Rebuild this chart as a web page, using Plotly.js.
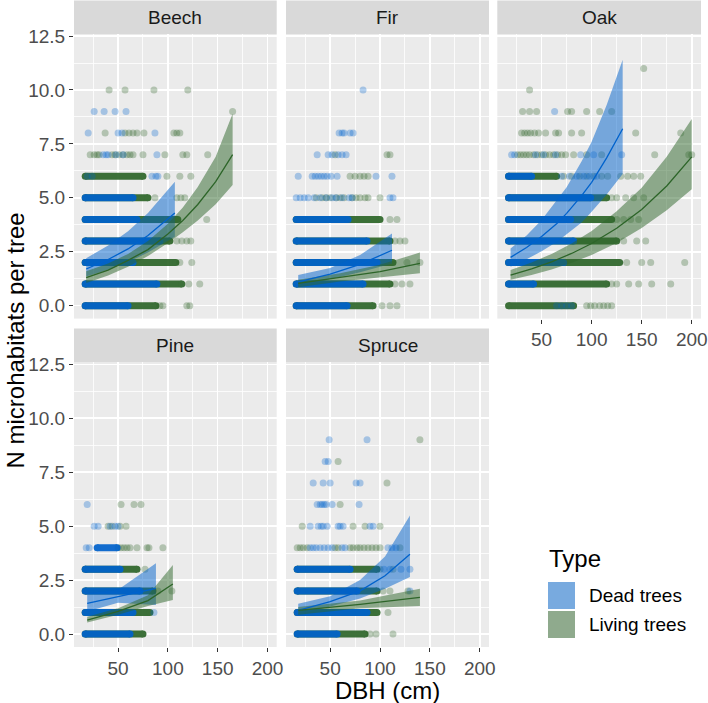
<!DOCTYPE html>
<html>
<head>
<meta charset="utf-8">
<script src="https://cdn.plot.ly/plotly-3.0.1.min.js"></script>
<style>
  html, body { margin: 0; padding: 0; background: #fff; }
  #chart { width: 708px; height: 703px; }
</style>
</head>
<body>
<div id="chart"></div>
<script>
// Facets, in panel order
const species = ["Beech", "Fir", "Oak", "Pine", "Spruce"];

// Dense runs of points: [N microhabitats, DBH from, DBH to]
// Sparse points: [N microhabitats, DBH, DBH, ...]
const beechDeadRuns = [[0, 17, 60], [1, 17, 89], [2, 17, 65], [3, 17, 92], [4, 17, 69], [5, 17, 65]];
const beechDeadPts = [[9, 26, 36, 47, 58], [8, 20, 50, 54, 87], [7, 35, 38, 40, 48, 55, 89], [6, 19, 24, 84, 88, 90]];
const beechLiveRuns = [[0, 17, 88], [1, 17, 114], [2, 17, 108], [3, 17, 102], [4, 17, 110], [5, 17, 80], [6, 17, 75]];
const beechLivePts = [[10, 41, 57, 86, 120], [9, 165], [8, 37, 57, 61, 65, 69, 76, 106, 109, 112],
  [7, 22, 26, 29, 31, 44, 47, 51, 55, 59, 62, 65, 75, 97, 115, 119, 140], [6, 99, 112, 123],
  [5, 87, 109, 113, 117], [4, 139], [3, 109, 114, 119, 123], [2, 112, 124], [1, 121, 132], [0, 92, 95, 119, 122]];

const firDeadRuns = [[0, 16, 67], [1, 16, 83], [2, 16, 97], [3, 16, 87], [4, 16, 68]];
const firDeadPts = [[10, 83], [8, 59, 62, 64, 70, 73], [7, 37, 48, 52, 58, 62, 66], [6, 18, 32, 35, 38, 41, 44, 47, 51, 57, 96, 112],
  [5, 16, 20, 24, 28, 34, 40, 46, 52, 56, 62, 69, 72, 110, 113]];
const firLiveRuns = [[0, 16, 93], [1, 16, 110], [2, 16, 113], [3, 16, 110], [4, 16, 100]];
const firLivePts = [[7, 55, 107, 110], [6, 70, 75, 80, 84, 88], [5, 36, 42, 46, 50, 56, 60, 64, 72, 76, 80, 85, 88, 100],
  [4, 110, 117], [3, 115, 120, 125], [2, 127, 140], [1, 115, 122, 130], [0, 102, 110, 117]];

const oakDeadRuns = [[1, 17, 42], [2, 17, 72], [3, 17, 82], [4, 17, 79], [5, 17, 99], [6, 17, 40]];
const oakDeadPts = [[9, 63], [7, 20, 23, 44, 52, 64, 89, 102, 130], [6, 70, 78, 85, 92, 98, 105], [0, 65, 70, 75, 80]];
const oakLiveRuns = [[0, 17, 82], [1, 17, 115], [2, 17, 128], [3, 17, 125], [4, 17, 120], [5, 17, 115], [6, 17, 65]];
const oakLivePts = [[11, 152], [10, 38], [9, 31, 38, 45, 76, 80, 95, 108, 120],
  [8, 30, 33, 36, 39, 43, 47, 54, 64, 67, 80, 90, 144, 189],
  [7, 26, 29, 32, 35, 38, 42, 46, 50, 54, 58, 62, 66, 70, 74, 82, 95, 110, 163, 197, 200],
  [6, 72, 80, 88, 95, 102, 110, 116, 129, 136, 142, 149], [5, 120, 125, 134, 142, 152],
  [4, 125, 132, 139, 147], [3, 132, 145, 154], [2, 135, 150, 159, 193], [1, 120, 125, 137, 147, 160, 179],
  [0, 95, 99, 103, 108, 112, 116, 120]];

const pineDeadRuns = [[0, 17, 62], [1, 17, 65], [2, 17, 72], [3, 17, 52], [4, 29, 49]];
const pineDeadPts = [[6, 19], [5, 26, 30, 42, 47, 50], [4, 18, 21], [1, 86]];
const pineLiveRuns = [[0, 17, 75], [1, 17, 82], [2, 17, 85], [3, 17, 69]];
const pineLivePts = [[6, 53, 66, 73], [5, 40, 44, 52, 58], [4, 50, 53, 56, 59, 62, 69, 79, 81, 95], [3, 77], [2, 90, 104]];

const spruceDeadRuns = [[0, 17, 57], [1, 17, 87], [2, 17, 77], [3, 17, 70]];
const spruceDeadPts = [[9, 49, 87], [8, 45, 48], [7, 33, 43, 50, 76, 80], [6, 37, 40, 42, 44, 46, 52, 79],
  [5, 30, 38, 41, 43, 47, 58, 60, 63, 90, 93], [4, 30, 33, 36, 40, 44, 48, 52, 62, 65, 108, 112, 116],
  [3, 104, 110, 121, 130], [2, 130]];
const spruceLiveRuns = [[0, 17, 85], [1, 17, 97], [2, 17, 97], [3, 17, 97]];
const spruceLivePts = [[9, 140], [8, 58], [7, 107], [6, 60], [5, 22, 73, 85, 100],
  [4, 17, 20, 23, 27, 55, 58, 70, 73, 77, 80, 84, 88, 92, 96, 100, 120], [3, 100, 113],
  [2, 103, 110, 128], [1, 108], [0, 90, 96, 113]];

// Fitted curves with confidence band (DBH, fit, lower, upper)
const beechDeadFitX = [18, 40, 60, 80, 107];
const beechDeadFit = [1.7, 2.14, 2.63, 3.25, 4.3];
const beechDeadLo = [1.35, 1.67, 2.02, 2.46, 3.2];
const beechDeadHi = [2.2, 2.79, 3.45, 4.3, 5.75];
const beechLiveFitX = [18, 40, 60, 80, 100, 115, 130, 148, 165];
const beechLiveFit = [1.3, 1.65, 2.1, 2.6, 3.32, 3.95, 4.69, 5.75, 7.0];
const beechLiveLo = [1.05, 1.4, 1.8, 2.3, 2.9, 3.4, 3.95, 4.7, 5.6];
const beechLiveHi = [1.6, 1.95, 2.4, 3.0, 3.8, 4.55, 5.5, 6.9, 8.9];

const firDeadFitX = [18, 50, 80, 112];
const firDeadFit = [1.1, 1.46, 1.91, 2.57];
const firDeadLo = [0.88, 1.22, 1.55, 1.96];
const firDeadHi = [1.42, 1.75, 2.35, 3.35];
const firLiveFitX = [18, 60, 100, 140];
const firLiveFit = [1.03, 1.3, 1.58, 1.96];
const firLiveLo = [0.85, 1.12, 1.3, 1.5];
const firLiveHi = [1.2, 1.5, 1.9, 2.46];

const oakDeadFitX = [19, 35, 50, 65, 75, 90, 100, 115, 131];
const oakDeadFit = [2.24, 2.7, 3.21, 3.8, 4.28, 5.1, 5.72, 6.85, 8.2];
const oakDeadLo = [1.8, 2.15, 2.52, 2.95, 3.31, 3.85, 4.35, 5.15, 6.1];
const oakDeadHi = [2.65, 3.25, 3.97, 4.85, 5.49, 6.7, 7.6, 9.3, 11.4];
const oakLiveFitX = [19, 40, 60, 80, 100, 125, 150, 175, 200];
const oakLiveFit = [1.42, 1.71, 2.03, 2.42, 2.88, 3.59, 4.46, 5.55, 6.9];
const oakLiveLo = [1.2, 1.42, 1.68, 1.99, 2.35, 2.9, 3.6, 4.42, 5.4];
const oakLiveHi = [1.65, 2.0, 2.4, 2.88, 3.46, 4.38, 5.47, 6.9, 8.66];

const pineDeadFitX = [19, 50, 88];
const pineDeadFit = [1.42, 1.72, 2.12];
const pineDeadLo = [1.05, 1.45, 1.35];
const pineDeadHi = [1.89, 2.05, 3.28];
const pineLiveFitX = [19, 50, 80, 105];
const pineLiveFit = [0.65, 1.05, 1.55, 2.32];
const pineLiveLo = [0.53, 0.9, 1.3, 1.58];
const pineLiveHi = [0.8, 1.2, 1.8, 3.2];

const spruceDeadFitX = [18, 50, 80, 105, 130];
const spruceDeadFit = [1.1, 1.5, 2.0, 2.7, 3.7];
const spruceDeadLo = [0.88, 1.28, 1.65, 2.1, 2.65];
const spruceDeadHi = [1.4, 1.75, 2.5, 3.6, 5.5];
const spruceLiveFitX = [18, 80, 140];
const spruceLiveFit = [1.1, 1.38, 1.7];
const spruceLiveLo = [0.9, 1.2, 1.3];
const spruceLiveHi = [1.25, 1.55, 2.1];

// Colours
const deadCol = "#0062CC";
const liveCol = "#2D6529";
const deadPt = "rgba(0,98,204,0.3)";
const livePt = "rgba(45,101,41,0.3)";
const deadFill = "rgba(0,98,204,0.5)";
const liveFill = "rgba(45,101,41,0.5)";

const axIds = ["", "2", "3", "4", "5"];

function runTrace(runs, color, i) {
    const x = [], y = [];
    runs.forEach(([lvl, a, b]) => { x.push(a, b, null); y.push(lvl, lvl, null); });
    return {
        type: "scatter", mode: "lines+markers", x: x, y: y,
        xaxis: "x" + axIds[i], yaxis: "y" + axIds[i],
        line: {color: color, width: 7}, marker: {color: color, size: 7},
        opacity: 0.92, hoverinfo: "skip", showlegend: false
    };
}

function ptsTrace(levels, color, i) {
    const x = [], y = [];
    levels.forEach(([lvl, ...xs]) => xs.forEach(v => { x.push(v); y.push(lvl); }));
    return {
        type: "scatter", mode: "markers", x: x, y: y,
        xaxis: "x" + axIds[i], yaxis: "y" + axIds[i],
        marker: {color: color, size: 7, line: {width: 0}},
        hoverinfo: "skip", showlegend: false
    };
}

function ribbonTrace(fx, lo, hi, fill, i) {
    return {
        type: "scatter", mode: "lines", fill: "toself", fillcolor: fill,
        x: fx.concat(fx.slice().reverse()),
        y: hi.concat(lo.slice().reverse()),
        xaxis: "x" + axIds[i], yaxis: "y" + axIds[i],
        line: {width: 0}, hoverinfo: "skip", showlegend: false
    };
}

function fitTrace(fx, fit, color, i) {
    return {
        type: "scatter", mode: "lines", x: fx, y: fit,
        xaxis: "x" + axIds[i], yaxis: "y" + axIds[i],
        line: {color: color, width: 1.3}, hoverinfo: "skip", showlegend: false
    };
}

const panels = [
    [beechDeadRuns, beechDeadPts, beechLiveRuns, beechLivePts,
     [beechDeadFitX, beechDeadFit, beechDeadLo, beechDeadHi], [beechLiveFitX, beechLiveFit, beechLiveLo, beechLiveHi]],
    [firDeadRuns, firDeadPts, firLiveRuns, firLivePts,
     [firDeadFitX, firDeadFit, firDeadLo, firDeadHi], [firLiveFitX, firLiveFit, firLiveLo, firLiveHi]],
    [oakDeadRuns, oakDeadPts, oakLiveRuns, oakLivePts,
     [oakDeadFitX, oakDeadFit, oakDeadLo, oakDeadHi], [oakLiveFitX, oakLiveFit, oakLiveLo, oakLiveHi]],
    [pineDeadRuns, pineDeadPts, pineLiveRuns, pineLivePts,
     [pineDeadFitX, pineDeadFit, pineDeadLo, pineDeadHi], [pineLiveFitX, pineLiveFit, pineLiveLo, pineLiveHi]],
    [spruceDeadRuns, spruceDeadPts, spruceLiveRuns, spruceLivePts,
     [spruceDeadFitX, spruceDeadFit, spruceDeadLo, spruceDeadHi], [spruceLiveFitX, spruceLiveFit, spruceLiveLo, spruceLiveHi]]
];

const traces = [];
panels.forEach((p, i) => {
    const [dRuns, dPts, lRuns, lPts, dFit, lFit] = p;
    traces.push(runTrace(lRuns, liveCol, i));
    traces.push(ptsTrace(lPts, livePt, i));
    traces.push(runTrace(dRuns, deadCol, i));
    traces.push(ptsTrace(dPts, deadPt, i));
    traces.push(ribbonTrace(dFit[0], dFit[2], dFit[3], deadFill, i));
    traces.push(ribbonTrace(lFit[0], lFit[2], lFit[3], liveFill, i));
    traces.push(fitTrace(dFit[0], dFit[1], deadCol, i));
    traces.push(fitTrace(lFit[0], lFit[1], liveCol, i));
});

// Panel geometry (paper fractions)
const W = 708, H = 703;
const cols = [[74, 276.7], [286, 489], [497.3, 701]];
const rows = [[33.9, 318.6], [362.2, 647]];
const stripTop = [0.5, 328.5];
const cellOf = [[0, 0], [0, 1], [0, 2], [1, 0], [1, 1]];
const showX = [false, false, true, true, true];
const showY = [true, false, false, true, false];

const tickFont = {family: "Liberation Sans, Arial, sans-serif", size: 19, color: "#4D4D4D"};

const layout = {
    width: W, height: H,
    margin: {l: 0, r: 0, t: 0, b: 0},
    paper_bgcolor: "#FFFFFF",
    plot_bgcolor: "#EBEBEB",
    showlegend: false,
    font: {family: "Liberation Sans, Arial, sans-serif", color: "#1A1A1A"},
    shapes: [],
    annotations: []
};

cellOf.forEach(([r, c], i) => {
    const xd = [cols[c][0] / W, cols[c][1] / W];
    const yd = [(H - rows[r][1]) / H, (H - rows[r][0]) / H];
    layout["xaxis" + axIds[i]] = {
        domain: xd, anchor: "y" + axIds[i], range: [5.75, 209.25],
        tick0: 0, dtick: 50, showticklabels: showX[i],
        ticks: showX[i] ? "outside" : "", ticklen: 4, tickwidth: 1, tickcolor: "#333333",
        tickfont: tickFont, showgrid: true, gridcolor: "#FFFFFF", gridwidth: 1.6,
        minor: {dtick: 25, tick0: 0, showgrid: true, gridcolor: "#FFFFFF", gridwidth: 0.8},
        zeroline: false, showline: false, automargin: false, fixedrange: true
    };
    layout["yaxis" + axIds[i]] = {
        domain: yd, anchor: "x" + axIds[i], range: [-0.6, 12.6],
        tick0: 0, dtick: 2.5, tickformat: ".1f", showticklabels: showY[i],
        ticks: showY[i] ? "outside" : "", ticklen: 4, tickwidth: 1, tickcolor: "#333333",
        tickfont: tickFont, showgrid: true, gridcolor: "#FFFFFF", gridwidth: 1.6,
        minor: {dtick: 1.25, tick0: 0, showgrid: true, gridcolor: "#FFFFFF", gridwidth: 0.8},
        zeroline: false, showline: false, automargin: false, fixedrange: true
    };
    // strip
    layout.shapes.push({
        type: "rect", xref: "paper", yref: "paper", layer: "below",
        x0: xd[0], x1: xd[1], y0: yd[1], y1: (H - stripTop[r]) / H,
        fillcolor: "#D9D9D9", line: {width: 0}
    });
    layout.annotations.push({
        xref: "paper", yref: "paper", x: (xd[0] + xd[1]) / 2,
        y: (H - (stripTop[r] + rows[r][0]) / 2) / H,
        text: species[i], showarrow: false, xanchor: "center", yanchor: "middle",
        font: {size: 19, color: "#1A1A1A"}
    });
});

// Axis titles
layout.annotations.push({
    xref: "paper", yref: "paper", x: 387.5 / W, y: (H - 690) / H,
    text: "DBH (cm)", showarrow: false, xanchor: "center", yanchor: "middle",
    font: {size: 24, color: "#000000"}
});
layout.annotations.push({
    xref: "paper", yref: "paper", x: 15 / W, y: (H - 340.5) / H, textangle: -90,
    text: "N microhabitats per tree", showarrow: false, xanchor: "center", yanchor: "middle",
    font: {size: 24, color: "#000000"}
});

// Legend
const legendTypes = ["Dead trees", "Living trees"];
const legendFills = ["#78AADF", "#8FAA8D"];
layout.annotations.push({
    xref: "paper", yref: "paper", x: 547 / W, y: (H - 558) / H,
    text: "Type", showarrow: false, xanchor: "left", yanchor: "middle",
    font: {size: 24, color: "#000000"}
});
legendTypes.forEach((t, k) => {
    const top = 582 + k * 29;
    layout.shapes.push({
        type: "rect", xref: "paper", yref: "paper",
        x0: 548 / W, x1: 575 / W, y0: (H - top - 27) / H, y1: (H - top) / H,
        fillcolor: legendFills[k], line: {width: 0}
    });
    layout.annotations.push({
        xref: "paper", yref: "paper", x: 587 / W, y: (H - top - 13.5) / H,
        text: t, showarrow: false, xanchor: "left", yanchor: "middle",
        font: {size: 19, color: "#000000"}
    });
});

Plotly.newPlot("chart", traces, layout, {staticPlot: true});
</script>
</body>
</html>
